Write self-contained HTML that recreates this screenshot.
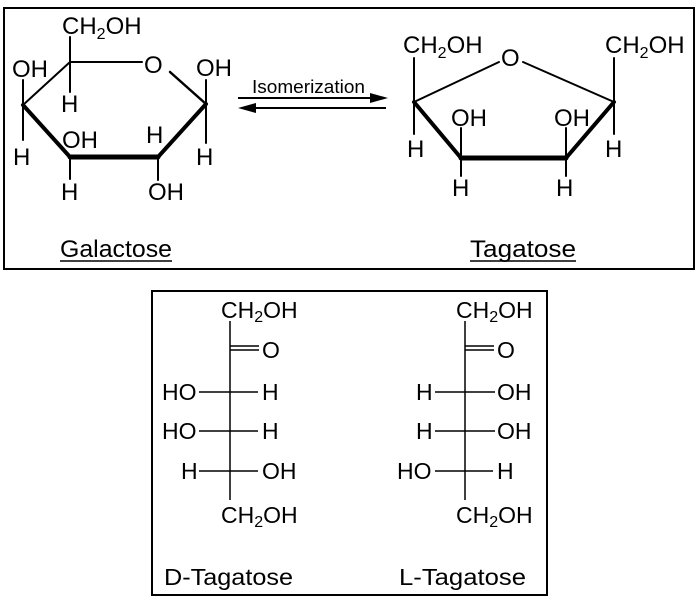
<!DOCTYPE html>
<html><head><style>
html,body{margin:0;padding:0;background:#fff;}
svg{display:block;}
text{font-family:"Liberation Sans",Arial,sans-serif;fill:#000;}
</style></head><body>
<svg width="699" height="599" viewBox="0 0 699 599" xmlns="http://www.w3.org/2000/svg">
<rect x="4" y="8" width="690" height="261" fill="none" stroke="#000" stroke-width="2"/>
<rect x="152" y="291" width="395" height="304" fill="none" stroke="#000" stroke-width="2"/>
<g font-size="24">
<text x="62" y="34">CH<tspan font-size="16" dy="5">2</tspan><tspan dy="-5">OH</tspan></text>
<text x="144" y="73">O</text>
<text x="196" y="76">OH</text>
<text x="12" y="77">OH</text>
<text x="61" y="112">H</text>
<text x="13" y="165">H</text>
<text x="62" y="148">OH</text>
<text x="146" y="143">H</text>
<text x="196" y="165">H</text>
<text x="61" y="200">H</text>
<text x="148" y="200">OH</text>
</g>
<g stroke="#000" fill="none" stroke-linecap="round">
<line x1="70" y1="37" x2="70" y2="92" stroke-width="2"/>
<line x1="70" y1="62" x2="142" y2="62" stroke-width="2"/>
<line x1="170" y1="72" x2="206" y2="104" stroke-width="2.5"/>
<line x1="206" y1="80" x2="206" y2="143" stroke-width="2"/>
<line x1="70" y1="62" x2="23" y2="105" stroke-width="2"/>
<line x1="23" y1="80" x2="23" y2="140" stroke-width="2"/>
<line x1="23" y1="105" x2="70" y2="157" stroke-width="4"/>
<line x1="70" y1="157" x2="158" y2="157" stroke-width="5"/>
<line x1="158" y1="157" x2="206" y2="104" stroke-width="4"/>
<line x1="70" y1="157" x2="70" y2="179" stroke-width="2"/>
<line x1="158" y1="157" x2="158" y2="180" stroke-width="2"/>
</g>
<text x="252" y="93" font-size="18" textLength="113" lengthAdjust="spacingAndGlyphs">Isomerization</text>
<line x1="238" y1="98" x2="374" y2="98" stroke="#000" stroke-width="2"/>
<polygon points="388,98 370,93 370,103" fill="#000"/>
<line x1="252" y1="108" x2="386" y2="108" stroke="#000" stroke-width="2"/>
<polygon points="238,108 256,103 256,113" fill="#000"/>
<g font-size="24">
<text x="403" y="53">CH<tspan font-size="16" dy="5">2</tspan><tspan dy="-5">OH</tspan></text>
<text x="501" y="66">O</text>
<text x="605" y="53">CH<tspan font-size="16" dy="5">2</tspan><tspan dy="-5">OH</tspan></text>
<text x="451" y="126">OH</text>
<text x="554" y="126">OH</text>
<text x="407" y="157">H</text>
<text x="605" y="157">H</text>
<text x="452" y="196">H</text>
<text x="556" y="196">H</text>
</g>
<g stroke="#000" fill="none" stroke-linecap="round">
<line x1="414" y1="58" x2="414" y2="134" stroke-width="2"/>
<line x1="614" y1="58" x2="614" y2="134" stroke-width="2"/>
<line x1="414" y1="102" x2="499" y2="62" stroke-width="2"/>
<line x1="523" y1="62" x2="614" y2="102" stroke-width="2"/>
<line x1="414" y1="102" x2="461" y2="158" stroke-width="4"/>
<line x1="461" y1="158" x2="566" y2="158" stroke-width="5"/>
<line x1="566" y1="158" x2="614" y2="102" stroke-width="4"/>
<line x1="461" y1="128" x2="461" y2="176" stroke-width="2"/>
<line x1="566" y1="128" x2="566" y2="176" stroke-width="2"/>
</g>
<text x="60" y="257" font-size="24" textLength="112" lengthAdjust="spacingAndGlyphs">Galactose</text>
<line x1="60" y1="261" x2="172" y2="261" stroke="#000" stroke-width="1.5"/>
<text x="470" y="257" font-size="24" textLength="106" lengthAdjust="spacingAndGlyphs">Tagatose</text>
<line x1="470" y1="261" x2="576" y2="261" stroke="#000" stroke-width="1.5"/>
<g font-size="23">
<text x="221" y="318">CH<tspan font-size="16" dy="4">2</tspan><tspan dy="-4">OH</tspan></text>
<text x="262" y="358">O</text>
<text x="162" y="400">HO</text><text x="262" y="400">H</text>
<text x="162" y="439">HO</text><text x="262" y="439">H</text>
<text x="181" y="479">H</text><text x="262" y="479">OH</text>
<text x="221" y="523">CH<tspan font-size="16" dy="4">2</tspan><tspan dy="-4">OH</tspan></text>
<text x="456" y="318">CH<tspan font-size="16" dy="4">2</tspan><tspan dy="-4">OH</tspan></text>
<text x="497" y="358">O</text>
<text x="416" y="400">H</text><text x="497" y="400">OH</text>
<text x="416" y="439">H</text><text x="497" y="439">OH</text>
<text x="397" y="479">HO</text><text x="497" y="479">H</text>
<text x="456" y="523">CH<tspan font-size="16" dy="4">2</tspan><tspan dy="-4">OH</tspan></text>
<text x="164" y="585" textLength="129" lengthAdjust="spacingAndGlyphs">D-Tagatose</text>
<text x="399" y="585" textLength="127" lengthAdjust="spacingAndGlyphs">L-Tagatose</text>
</g>
<g stroke="#000" stroke-width="1.5">
<line x1="230" y1="321" x2="230" y2="500"/>
<line x1="230" y1="346" x2="259" y2="346"/><line x1="230" y1="350" x2="259" y2="350"/>
<line x1="199" y1="392" x2="258" y2="392"/>
<line x1="199" y1="431" x2="258" y2="431"/>
<line x1="199" y1="471" x2="258" y2="471"/>
<line x1="465" y1="321" x2="465" y2="500"/>
<line x1="465" y1="346" x2="494" y2="346"/><line x1="465" y1="350" x2="494" y2="350"/>
<line x1="435" y1="392" x2="495" y2="392"/>
<line x1="435" y1="431" x2="495" y2="431"/>
<line x1="435" y1="471" x2="493" y2="471"/>
</g>
</svg>
</body></html>
